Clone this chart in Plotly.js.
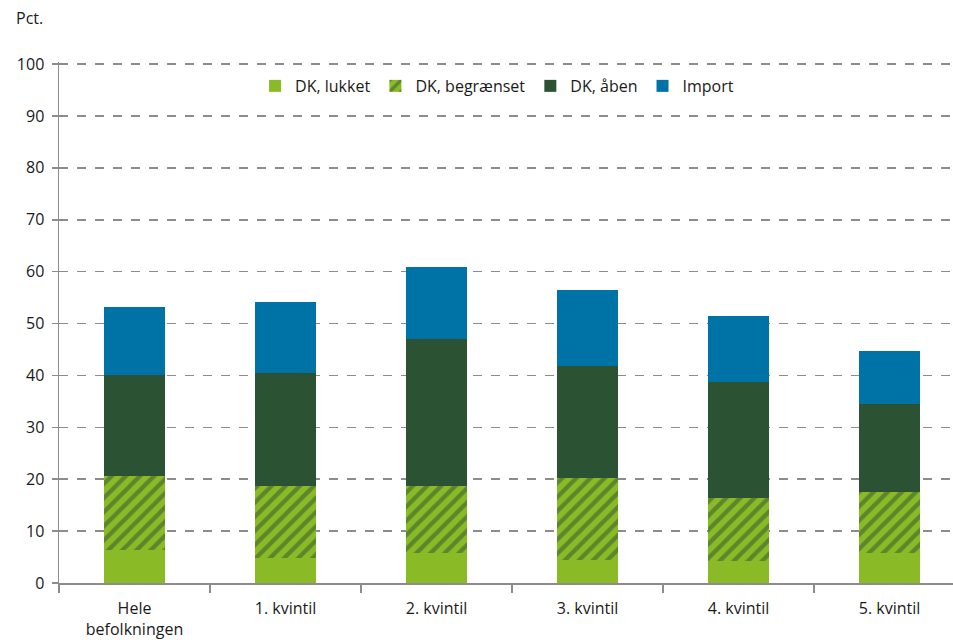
<!DOCTYPE html>
<html>
<head>
<meta charset="utf-8">
<script src="https://cdn.plot.ly/plotly-3.0.1.min.js"></script>
<style>html,body{margin:0;padding:0;background:#fff;}#chart{width:953px;height:644px;}</style>
</head>
<body>
<div id="chart"></div>
<script>
const categories = ["Hele<br>befolkningen", "1. kvintil", "2. kvintil", "3. kvintil", "4. kvintil", "5. kvintil"];
// stacked segment sizes (pct.)
const dkLukket = [6.4, 4.8, 5.7, 4.4, 4.2, 5.7];
const dkBegraenset = [14.2, 13.9, 13.0, 15.8, 12.1, 11.8];
const dkAaben = [19.5, 21.8, 28.25, 21.7, 22.4, 16.9];
const importShare = [13.1, 13.6, 13.95, 14.6, 12.7, 10.4];
const yTicks = [0, 10, 20, 30, 40, 50, 60, 70, 80, 90, 100];

const light = "#8aba25", dark = "#2c5234", blue = "#0073a6";
const FONT = "Open Sans, Noto Sans, sans-serif";

const traces = [
  {name: "DK, lukket", y: dkLukket, marker: {color: light}},
  {name: "DK, begrænset", y: dkBegraenset, marker: {color: light, pattern: {shape: "/", fgcolor: dark, bgcolor: light, size: 10, solidity: 0.42, fillmode: "overlay"}}},
  {name: "DK, åben", y: dkAaben, marker: {color: dark}},
  {name: "Import", y: importShare, marker: {color: blue}}
].map(t => Object.assign({type: "bar", x: categories, width: 0.4, hoverinfo: "skip"}, t));

const layout = {
  width: 953, height: 644,
  margin: {l: 59, r: 0, t: 62, b: 61},
  barmode: "stack",
  paper_bgcolor: "#fff", plot_bgcolor: "#fff",
  font: {family: FONT, size: 16, color: "#1a1a1a"},
  showlegend: true,
  legend: {orientation: "h", traceorder: "normal", x: 0.49, xanchor: "center", y: 0.954, yanchor: "middle",
           font: {size: 16, color: "#1a1a1a"}, itemwidth: 30, tracegroupgap: 0, bgcolor: "rgba(0,0,0,0)"},
  xaxis: {type: "category", range: [-0.5, 5.42], tickson: "boundaries", ticks: "outside", ticklen: 8,
          tickcolor: "#8c8c8c", tickwidth: 1.5, showline: true, linecolor: "#8c8c8c", linewidth: 1.5,
          showgrid: false, tickfont: {size: 16, color: "#1a1a1a"}, ticklabelstandoff: 10, fixedrange: true},
  yaxis: {range: [0, 100.4], tickvals: yTicks, ticks: "outside", ticklen: 6, tickcolor: "#8c8c8c", tickwidth: 1.5,
          showline: true, linecolor: "#8c8c8c", linewidth: 1.5, showgrid: true, gridcolor: "#8c8c8c",
          griddash: "dash", gridwidth: 1.5, zeroline: false, tickfont: {size: 16, color: "#1a1a1a"},
          ticklabelstandoff: 4, fixedrange: true},
  annotations: [{text: "Pct.", xref: "paper", yref: "paper", x: -0.05, y: 1.085, xanchor: "left", yanchor: "middle",
                 showarrow: false, font: {size: 16, color: "#1a1a1a"}}]
};

Plotly.newPlot("chart", traces, layout, {displayModeBar: false, staticPlot: true});
</script>
</body>
</html>
